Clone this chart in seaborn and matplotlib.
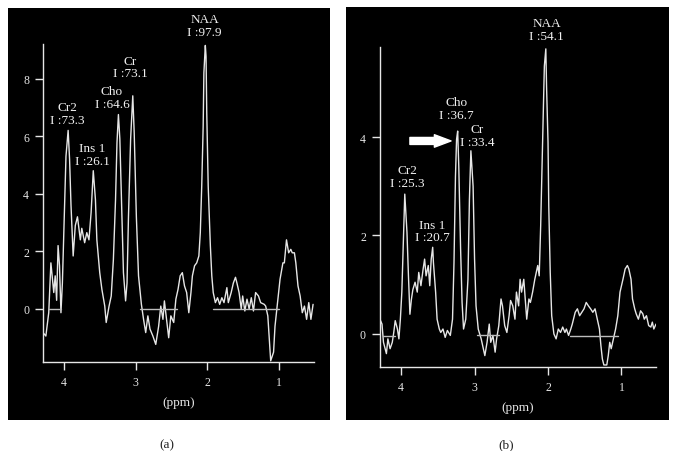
import matplotlib
matplotlib.use('Agg')
import matplotlib.pyplot as plt
from matplotlib.patches import Rectangle
import seaborn as sns

sns.set_theme(style='dark', rc={'axes.facecolor': 'black', 'figure.facecolor': 'white'})
plt.rcParams.update({'font.family': ['Liberation Serif', 'DejaVu Serif'], 'font.size': 8})

FG = '#e6e6e6'

# ---- panel (a) spectrum (ppm, amplitude) ----
ppm_a = [4.29, 4.25, 4.21, 4.18, 4.14, 4.12, 4.10, 4.08, 4.06, 4.04, 4.02, 4.00, 3.98, 3.97, 3.94,
         3.92, 3.90, 3.87, 3.84, 3.81, 3.77, 3.75, 3.71, 3.68, 3.65, 3.62, 3.59, 3.56, 3.54, 3.50,
         3.47, 3.43, 3.41, 3.37, 3.34, 3.31, 3.28, 3.26, 3.24, 3.22, 3.19, 3.17, 3.14, 3.12, 3.10,
         3.07, 3.04, 3.02, 2.99, 2.96, 2.92, 2.89, 2.86, 2.83, 2.80, 2.76, 2.72, 2.68, 2.65, 2.62,
         2.60, 2.57, 2.54, 2.51, 2.47, 2.44, 2.41, 2.38, 2.35, 2.32, 2.29, 2.26, 2.23, 2.21, 2.18,
         2.15, 2.12, 2.10, 2.08, 2.06, 2.05, 2.03, 2.02, 2.01, 1.99, 1.96, 1.94, 1.92, 1.89, 1.86,
         1.83, 1.80, 1.77, 1.73, 1.71, 1.67, 1.64, 1.61, 1.59, 1.56, 1.53, 1.51, 1.48, 1.45, 1.42,
         1.39, 1.36, 1.33, 1.29, 1.26, 1.21, 1.19, 1.16, 1.14, 1.12, 1.08, 1.06, 1.02, 0.99, 0.95,
         0.93, 0.90, 0.87, 0.84, 0.82, 0.79, 0.77, 0.74, 0.71, 0.68, 0.65, 0.62, 0.59, 0.56, 0.53]
spec_a = [-0.82, -0.94, -0.13, 1.6, 0.57, 1.15, 0.3, 2.2, 1.5, -0.13, 0.9, 2.65, 4.3, 5.3, 6.2,
          5.2, 3.6, 1.84, 2.9, 3.2, 2.4, 2.8, 2.3, 2.65, 2.4, 3.35, 4.8, 3.8, 2.4, 1.26,
          0.68, 0.1, -0.47, 0.1, 0.45, 1.72, 3.8, 5.77, 6.75, 5.9, 3.1, 1.26, 0.28, 0.9, 3.2,
          5.9, 7.4, 6.1, 3.2, 1.15, 0.16, -0.36, -0.82, -0.24, -0.7, -0.94, -1.23, -0.6, 0.1, -0.36,
          0.28, -0.36, -1.0, -0.24, -0.47, 0.34, 0.68, 1.15, 1.26, 0.8, 0.57, -0.13, 0.57, 1.15, 1.5,
          1.6, 1.84, 2.65, 4.27, 6.35, 8.2, 9.15, 8.77, 6.8, 4.27, 2.2, 1.15, 0.57, 0.22, 0.39,
          0.16, 0.39, 0.22, 0.74, 0.22, 0.57, 0.9, 1.1, 0.9, 0.57, 0.0, 0.45, -0.07, 0.34, 0.0,
          0.39, -0.07, 0.57, 0.45, 0.22, 0.16, 0.1, -0.24, -1.05, -1.8, -1.5, -0.6, 0.34, 1.03, 1.6,
          1.6, 2.4, 1.95, 2.07, 1.95, 1.95, 1.6, 0.8, 0.45, -0.13, 0.1, -0.36, 0.22, -0.36, 0.16]
fit_a = [(4.20, 4.04, 0.0), (2.94, 2.43, 0.0), (1.92, 1.01, 0.0)]
labels_a = ['NAA\nI :97.9', 'Cr\nI :73.1', 'Cho\nI :64.6', 'Cr2\nI :73.3', 'Ins 1\nI :26.1']
label_x_a = [2.04, 3.08, 3.33, 3.95, 3.60]
label_y_a = [9.84, 8.40, 7.33, 6.80, 5.36]

# ---- panel (b) spectrum ----
ppm_b = [4.28, 4.26, 4.24, 4.20, 4.18, 4.15, 4.12, 4.10, 4.08, 4.05, 4.03, 4.01, 3.99, 3.97, 3.95,
         3.92, 3.90, 3.88, 3.86, 3.84, 3.81, 3.78, 3.76, 3.73, 3.70, 3.68, 3.66, 3.63, 3.61, 3.59,
         3.57, 3.56, 3.53, 3.51, 3.48, 3.46, 3.43, 3.40, 3.37, 3.33, 3.30, 3.28, 3.26, 3.245, 3.23,
         3.215, 3.19, 3.17, 3.15, 3.12, 3.09, 3.07, 3.05, 3.02, 3.00, 2.98, 2.95, 2.91, 2.89, 2.86,
         2.83, 2.80, 2.78, 2.75, 2.72, 2.70, 2.67, 2.64, 2.62, 2.59, 2.56, 2.53, 2.51, 2.48, 2.45,
         2.43, 2.40, 2.38, 2.36, 2.33, 2.31, 2.29, 2.26, 2.24, 2.21, 2.18, 2.14, 2.12, 2.10, 2.08,
         2.06, 2.05, 2.03, 2.02, 2.00, 1.99, 1.97, 1.95, 1.92, 1.89, 1.86, 1.83, 1.80, 1.77, 1.75,
         1.72, 1.69, 1.67, 1.63, 1.60, 1.57, 1.54, 1.51, 1.48, 1.45, 1.42, 1.39, 1.36, 1.33, 1.30,
         1.28, 1.26, 1.24, 1.20, 1.18, 1.16, 1.14, 1.11, 1.08, 1.05, 1.02, 1.00, 0.98, 0.95, 0.92,
         0.90, 0.87, 0.85, 0.82, 0.80, 0.77, 0.74, 0.71, 0.69, 0.66, 0.63, 0.60, 0.58, 0.56, 0.53]
spec_b = [0.27, 0.2, -0.17, -0.4, -0.1, -0.3, -0.17, 0.03, 0.27, 0.1, -0.1, 0.3, 0.85, 1.86, 2.84,
          2.06, 1.18, 0.4, 0.7, 0.9, 1.05, 0.85, 1.25, 0.98, 1.32, 1.52, 1.18, 1.39, 0.98, 1.52,
          1.76, 1.45, 0.85, 0.3, 0.1, 0.03, 0.1, -0.07, 0.07, -0.03, 0.3, 1.45, 3.2, 3.95, 4.12,
          3.41, 1.72, 0.64, 0.1, 0.3, 1.11, 2.73, 3.72, 3.0, 1.52, 0.57, 0.1, -0.1, -0.24, -0.44,
          -0.17, 0.2, -0.17, -0.03, -0.37, -0.1, 0.17, 0.71, 0.57, 0.17, 0.03, 0.37, 0.68, 0.57, 0.3,
          0.85, 0.57, 1.11, 0.85, 1.11, 0.71, 0.3, 0.71, 0.64, 0.85, 1.11, 1.39, 1.18, 2.2, 3.48,
          4.76, 5.44, 5.79, 5.03, 3.89, 2.6, 1.25, 0.37, 0.0, -0.1, 0.1, 0.03, 0.14, 0.03, 0.1,
          -0.03, 0.1, 0.2, 0.44, 0.51, 0.37, 0.44, 0.51, 0.64, 0.57, 0.51, 0.44, 0.51, 0.3, 0.1,
          -0.24, -0.51, -0.63, -0.63, -0.44, -0.17, -0.3, -0.1, 0.1, 0.37, 0.85, 0.98, 1.11, 1.32, 1.39,
          1.32, 1.11, 0.71, 0.51, 0.41, 0.3, 0.47, 0.41, 0.3, 0.37, 0.17, 0.14, 0.24, 0.1, 0.2]
fit_b = [(4.25, 4.08, -0.05), (2.97, 2.67, -0.03), (1.70, 1.05, -0.05)]
labels_b = ['NAA\nI :54.1', 'Cho\nI :36.7', 'Cr\nI :33.4', 'Cr2\nI :25.3', 'Ins 1\nI :20.7']
label_x_b = [2.02, 3.25, 2.97, 3.92, 3.58]
label_y_b = [6.18, 4.57, 4.03, 3.20, 2.09]


def draw_panel(ax, ppm, spec, fit, labels, lx, ly, xlim, ylim, yticks):
    sns.lineplot(x=ppm, y=spec, ax=ax, color=FG, lw=1.0, sort=False, estimator=None)
    for x0, x1, y0 in fit:
        sns.lineplot(x=[x0, x1], y=[y0, y0], ax=ax, color='#bdbdbd', lw=1.0, estimator=None)
    for txt, x, y in zip(labels, lx, ly):
        ax.text(x, y, txt, color='#f0f0f0', ha='center', va='center', fontsize=9.5,
                linespacing=1.1)
    ax.set_xlim(*xlim)
    ax.set_ylim(*ylim)
    ax.set_xticks([4, 3, 2, 1])
    ax.set_yticks(yticks)
    ax.grid(False)
    for s in ['top', 'right']:
        ax.spines[s].set_visible(False)
    for s in ['left', 'bottom']:
        ax.spines[s].set_color(FG)
        ax.spines[s].set_linewidth(1.0)
    ax.tick_params(colors=FG, direction='out', length=6, width=1, labelsize=8.5, pad=4,
                   bottom=True, left=True)
    ax.set_xlabel('(ppm)', color=FG, fontsize=9.5, labelpad=6)
    ax.set_ylabel('')


fig = plt.figure(figsize=(6.77, 4.52), dpi=100)
fig.patches.append(Rectangle((0.0118, 0.0686), 0.4756, 0.9115, transform=fig.transFigure,
                             facecolor='black', edgecolor='none', zorder=-5))
fig.patches.append(Rectangle((0.511, 0.0686), 0.477, 0.914, transform=fig.transFigure,
                             facecolor='black', edgecolor='none', zorder=-5))

ax_a = fig.add_axes([0.0635, 0.197, 0.400, 0.7035])
ax_b = fig.add_axes([0.561, 0.186, 0.408, 0.708])

draw_panel(ax_a, ppm_a, spec_a, fit_a, labels_a, label_x_a, label_y_a,
           (4.29, 0.52), (-1.84, 9.2), [0, 2, 4, 6, 8])
draw_panel(ax_b, ppm_b, spec_b, fit_b, labels_b, label_x_b, label_y_b,
           (4.29, 0.53), (-0.67, 5.83), [0, 2, 4])

# white arrow pointing at the Cho peak in (b)
ax_b.annotate('', xy=(3.32, 3.92), xytext=(3.88, 3.92),
              arrowprops=dict(arrowstyle='simple,head_length=1.0,head_width=0.75,tail_width=0.42',
                              color='white', mutation_scale=12, shrinkA=0, shrinkB=0))

fig.text(0.247, 0.0155, '(a)', ha='center', va='center', fontsize=9.5, color='#222222')
fig.text(0.747, 0.0155, '(b)', ha='center', va='center', fontsize=9.5, color='#222222')

fig.savefig('out.png', dpi=100)
